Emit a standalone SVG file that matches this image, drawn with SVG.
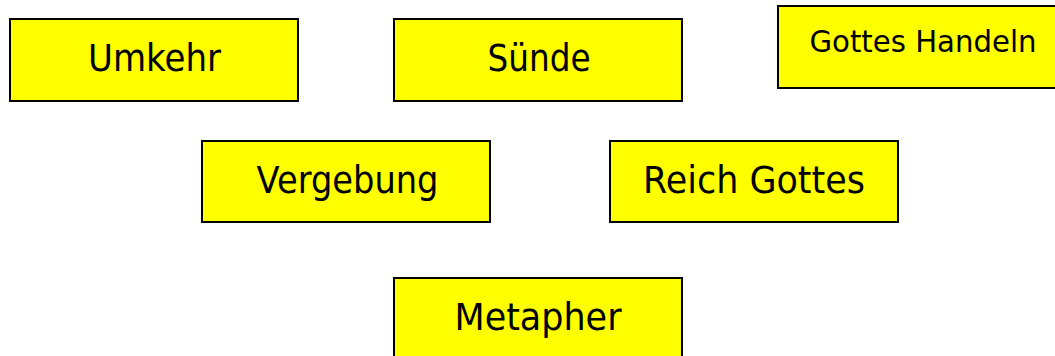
<svg xmlns="http://www.w3.org/2000/svg" width="1055" height="356" viewBox="0 0 1055 356">
<style>
.box{fill:#ffff00;stroke:#000;stroke-width:2}
.lbl{font-family:"DejaVu Sans","Liberation Sans",sans-serif;font-size:37px;fill:#000;text-anchor:middle}
.sm{font-size:31px}
</style>
<rect width="1055" height="356" fill="#fff"/>
<g id="connectors"></g>
<g id="node-umkehr">
<rect class="box" x="10" y="19" width="288" height="82"/>
<text class="lbl" x="154.5" y="71" textLength="133" lengthAdjust="spacingAndGlyphs">Umkehr</text>
</g>
<g id="node-suende">
<rect class="box" x="394" y="19" width="288" height="82"/>
<text class="lbl" x="539" y="71" textLength="103" lengthAdjust="spacingAndGlyphs">Sünde</text>
</g>
<g id="node-gottes-handeln">
<rect class="box" x="778" y="6" width="290" height="82"/>
<text class="lbl sm" x="923" y="52" textLength="227" lengthAdjust="spacingAndGlyphs">Gottes Handeln</text>
</g>
<g id="node-vergebung">
<rect class="box" x="202" y="141" width="288" height="81"/>
<text class="lbl" x="347.5" y="193" textLength="182" lengthAdjust="spacingAndGlyphs">Vergebung</text>
</g>
<g id="node-reich-gottes">
<rect class="box" x="610" y="141" width="288" height="81"/>
<text class="lbl" x="754" y="193" textLength="222" lengthAdjust="spacingAndGlyphs">Reich Gottes</text>
</g>
<g id="node-metapher">
<rect class="box" x="394" y="278" width="288" height="90"/>
<text class="lbl" x="538" y="330" textLength="167" lengthAdjust="spacingAndGlyphs">Metapher</text>
</g>
</svg>
